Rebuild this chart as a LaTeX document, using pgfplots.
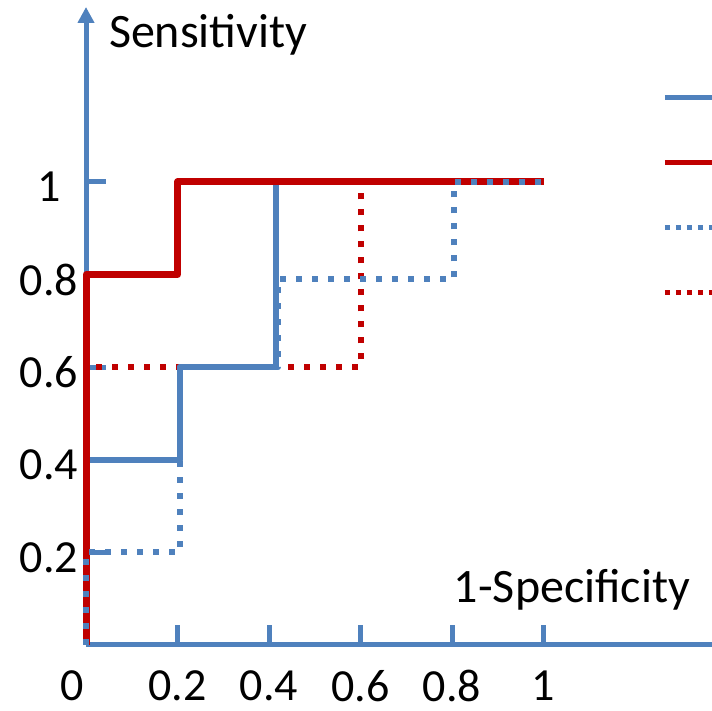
\documentclass[border=0pt]{standalone}
\usepackage{pgfplots}
\pgfplotsset{compat=1.18}
\usetikzlibrary{arrows.meta}
\usepackage{fontspec}
\setmainfont{Carlito}
\definecolor{rocblue}{HTML}{4F81BD}
\definecolor{rocred}{HTML}{C00000}

\begin{document}
\begin{tikzpicture}
\begin{axis}[
    x=228.75pt, y=231.5pt,
    xmin=0, xmax=1.42, ymin=0, ymax=1.378,
    clip=false,
    axis lines=left,
    axis line style={rocblue, line width=2.5pt, -{Triangle[width=8pt,length=8pt]}},
    tick align=inside,
    major tick length=10pt,
    tick style={rocblue, line width=2.5pt},
    xtick={0.2,0.4,0.6,0.8,1},
    extra x ticks={0},
    extra x tick style={xticklabel style={xshift=-7pt}, major tick length=0pt},
    ytick={0.2,0.4,0.6,0.8,1},
    /pgf/number format/assume math mode=true,
    ticklabel style={font=\fontsize{23}{27}\selectfont, anchor=center, inner sep=0pt},
    xticklabel style={yshift=-20.5pt},
    yticklabel style={xshift=-18.5pt, yshift=-2.5pt},
    xlabel={1-Specificity},
    ylabel={Sensitivity},
    xlabel style={at={(axis description cs:0.748,0.0862)}, anchor=center, font=\fontsize{24}{28}\selectfont},
    ylabel style={at={(axis description cs:0.188,0.9557)}, anchor=center, rotate=-90, font=\fontsize{24}{28}\selectfont},
    legend style={draw=none, fill=none, at={(axis description cs:0.887,0.9091)}, anchor=north west,
        inner sep=0pt, outer sep=0pt, row sep=0pt, nodes={inner sep=0pt, minimum height=32.5pt}},
    legend image code/.code={\draw[#1] (0pt,0pt) -- (40pt,0pt);},
    line join=round,
]
% ROC curves, drawn in the stacking order seen in the picture
\addplot[forget plot, rocred, line width=3pt, dash pattern=on 3pt off 5pt] coordinates {
    (0,0) (0,0.6) (0.6,0.6) (0.6,1) (1,1)
};
\addplot[forget plot, rocblue, line width=3pt] coordinates {
    (0,0) (0,0.4) (0.205,0.4) (0.205,0.6) (0.415,0.6) (0.415,1) (1,1)
};
\addplot[forget plot, rocred, line width=3.5pt] coordinates {
    (0,0) (0,0.8) (0.2,0.8) (0.2,1) (1,1)
};
\addplot[forget plot, rocblue, line width=3pt, dash pattern=on 3pt off 5pt] coordinates {
    (0,0) (0,0.2) (0.205,0.2) (0.205,0.6) (0.42,0.6) (0.42,0.79) (0.805,0.79) (0.805,1) (1,1)
};

\addlegendimage{rocblue, line width=2.5pt}
\addlegendentry{}
\addlegendimage{rocred, line width=2.5pt}
\addlegendentry{}
\addlegendimage{rocblue, line width=2.5pt, dash pattern=on 2.5pt off 3pt}
\addlegendentry{}
\addlegendimage{rocred, line width=2.5pt, dash pattern=on 2.5pt off 3pt}
\addlegendentry{}

\coordinate (bl) at (axis cs:-0.188,-0.1425);
\coordinate (tr) at (axis cs:1.3683,1.3931);
\end{axis}
\pgfresetboundingbox
\path[use as bounding box] (bl) rectangle (tr);
\end{tikzpicture}
\end{document}
